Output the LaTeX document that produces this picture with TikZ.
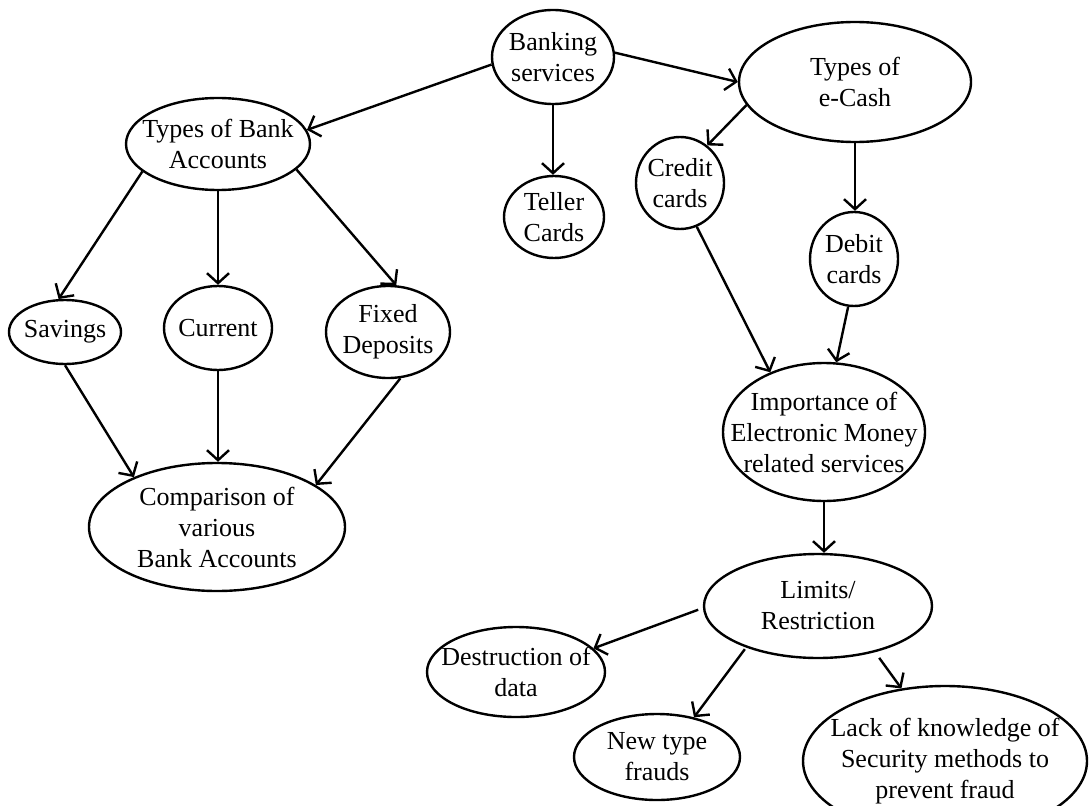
\documentclass[tikz,border=0pt]{standalone}
\usepackage{fontspec}
\setmainfont{Liberation Serif}
\usetikzlibrary{arrows.meta,shapes.geometric}
\begin{document}
\begin{tikzpicture}[x=1pt,y=-1pt,
  bubble/.style={draw, ellipse, line width=2.4pt, inner sep=-80pt, align=center,
    font=\fontsize{26}{31}\selectfont},
  link/.style={line width=2.4pt, -{Straight Barb[length=10pt,width=22pt]}}]
\useasboundingbox (0,0) rectangle (1091,805);

% top level
\node[bubble, minimum width=122pt, minimum height=94pt]  (bank)    at (553,57)  {Banking\\services};
\node[bubble, minimum width=184pt, minimum height=92pt]  (tbank)   at (218,144) {Types of Bank\\Accounts};
\node[bubble, minimum width=232pt, minimum height=120pt] (ecash)   at (855,82)  {Types of\\e-Cash};
\node[bubble, minimum width=100pt, minimum height=82pt]  (teller)  at (554,217) {Teller\\Cards};

% e-cash branch
\node[bubble, minimum width=88pt,  minimum height=92pt]  (credit)  at (680,183) {Credit\\cards};
\node[bubble, minimum width=88pt,  minimum height=94pt]  (debit)   at (854,259) {Debit\\cards};
\node[bubble, minimum width=202pt, minimum height=138pt] (imp)     at (824,432) {Importance of\\Electronic Money\\related services};
\node[bubble, minimum width=228pt, minimum height=104pt] (limits)  at (818,606) {Limits/\\Restriction};
\node[bubble, minimum width=178pt, minimum height=90pt]  (destr)   at (516,672) {Destruction of\\data};
\node[bubble, minimum width=166pt, minimum height=86pt]  (new)     at (657,757) {New type\\frauds};
\node[bubble, minimum width=284pt, minimum height=150pt] (lack)    at (945,761) {Lack of knowledge of\\Security methods to\\prevent fraud};

% account branch
\node[bubble, minimum width=112pt, minimum height=64pt]  (savings) at (65,332)  {Savings};
\node[bubble, minimum width=108pt, minimum height=84pt]  (current) at (218,328) {Current};
\node[bubble, minimum width=124pt, minimum height=92pt]  (fixed)   at (388,332) {Fixed\\Deposits};
\node[bubble, minimum width=256pt, minimum height=128pt] (comp)    at (217,527) {Comparison of\\various\\Bank Accounts};

% connectors
\draw[link] (bank.187) -- (tbank.9);
\draw[link] (bank.4) -- (ecash.180);
\draw[link] (bank.south) -- (bank.south |- teller.north);
\draw[link] (ecash.192) -- (credit.54);
\draw[link] (ecash.south) -- (ecash.south |- debit.north);
\draw[link] (tbank.200) -- (savings.101);
\draw[link] (tbank.south) -- (current.north);
\draw[link] (tbank.342) -- (fixed.80);
\draw[link] (savings.south) -- (comp.149);
\draw[link] (current.south) -- (current.south |- comp.north);
\draw[link] (fixed.285) -- (comp.23);
\draw[link] (credit.291) -- (imp.132);
\draw[link] (debit.263) -- (imp.80);
\draw[link] (imp.south) -- (imp.south |- limits.north);
\draw[link, shorten <=5pt] (limits.181) -- (destr.17);
\draw[link, shorten <=2pt] (limits.210) -- (new.47);
\draw[link, shorten <=7pt] (limits.321) -- (lack.121);
\end{tikzpicture}
\end{document}
